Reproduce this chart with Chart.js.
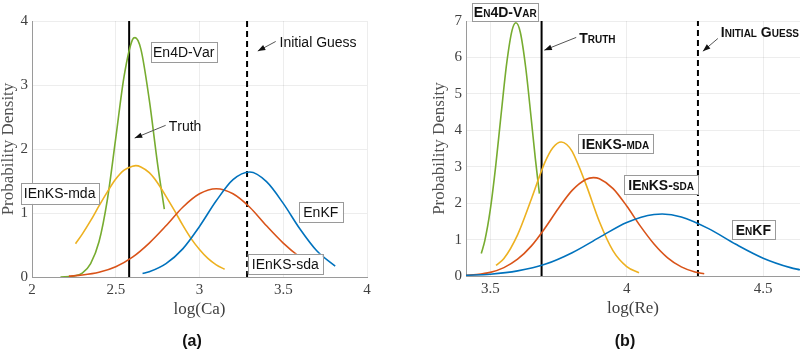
<!DOCTYPE html>
<html>
<head>
<meta charset="utf-8">
<script src="https://cdn.jsdelivr.net/npm/chart.js@4.4.1/dist/chart.umd.min.js"></script>
<style>
  body { margin: 0; background: #fff; }
  .panel { position: absolute; top: 0; width: 400px; height: 353px; }
</style>
</head>
<body>
<div class="panel" style="left:0"><canvas id="chartA" width="400" height="353"></canvas></div>
<div class="panel" style="left:400px"><canvas id="chartB" width="400" height="353"></canvas></div>
<script>
// ---- panel (a): log(Ca) ----
const xTicksA = [2, 2.5, 3, 3.5, 4];
const yTicksA = [0, 1, 2, 3, 4];
const truthA = 2.58;
const guessA = 3.284;

const en4dA_x = [2.17, 2.25, 2.30, 2.35, 2.40, 2.45, 2.50, 2.55, 2.60, 2.615, 2.65, 2.70, 2.75, 2.79];
const en4dA_y = [0.00, 0.015, 0.06, 0.21, 0.55, 1.21, 2.17, 3.14, 3.71, 3.74, 3.56, 2.77, 1.76, 1.06];

const mdaA_x = [2.26, 2.30, 2.35, 2.40, 2.45, 2.50, 2.55, 2.60, 2.62, 2.65, 2.70, 2.75, 2.80, 2.85, 2.90, 2.95, 3.00, 3.05, 3.10, 3.15];
const mdaA_y = [0.52, 0.67, 0.88, 1.11, 1.33, 1.53, 1.67, 1.73, 1.74, 1.72, 1.63, 1.47, 1.26, 1.04, 0.81, 0.60, 0.43, 0.29, 0.19, 0.12];

const sdaA_x = [2.22, 2.30, 2.40, 2.50, 2.60, 2.70, 2.80, 2.90, 3.00, 3.10, 3.20, 3.30, 3.40, 3.50, 3.60, 3.63];
const sdaA_y = [0.013, 0.03, 0.073, 0.16, 0.31, 0.53, 0.80, 1.09, 1.30, 1.38, 1.30, 1.09, 0.80, 0.53, 0.31, 0.26];

const enkfA_x = [2.66, 2.70, 2.80, 2.90, 3.00, 3.10, 3.20, 3.30, 3.40, 3.50, 3.60, 3.70, 3.81];
const enkfA_y = [0.054, 0.082, 0.21, 0.44, 0.79, 1.19, 1.52, 1.64, 1.49, 1.15, 0.75, 0.41, 0.17];

// ---- panel (b): log(Re) ----
const xTicksB = [3.5, 4, 4.5];
const yTicksB = [0, 1, 2, 3, 4, 5, 6, 7];
const truthB = 3.688;
const guessB = 4.261;

const en4dB_x = [3.467, 3.48, 3.50, 3.52, 3.54, 3.56, 3.58, 3.594, 3.61, 3.63, 3.65, 3.665, 3.68];
const en4dB_y = [0.62, 0.97, 1.82, 3.03, 4.46, 5.83, 6.75, 6.95, 6.69, 5.71, 4.32, 3.23, 2.26];

const mdaB_x = [3.521, 3.55, 3.60, 3.65, 3.70, 3.73, 3.76, 3.78, 3.80, 3.85, 3.90, 3.95, 4.00, 4.045];
const mdaB_y = [0.29, 0.48, 1.13, 2.10, 3.12, 3.53, 3.68, 3.61, 3.42, 2.53, 1.49, 0.69, 0.26, 0.09];

const sdaB_x = [3.411, 3.45, 3.50, 3.55, 3.60, 3.65, 3.70, 3.75, 3.80, 3.85, 3.878, 3.90, 3.95, 4.00, 4.05, 4.10, 4.15, 4.20, 4.25, 4.284];
const sdaB_y = [0.02, 0.04, 0.10, 0.23, 0.46, 0.82, 1.31, 1.86, 2.35, 2.65, 2.70, 2.67, 2.40, 1.92, 1.37, 0.88, 0.50, 0.25, 0.11, 0.06];

const enkfB_x = [3.411, 3.50, 3.60, 3.70, 3.80, 3.90, 4.00, 4.10, 4.13, 4.20, 4.30, 4.40, 4.50, 4.60, 4.635];
const enkfB_y = [0.02, 0.05, 0.14, 0.32, 0.64, 1.06, 1.47, 1.69, 1.70, 1.62, 1.30, 0.87, 0.49, 0.23, 0.17];

const BLUE = '#0072BD', RED = '#D95319', YELLOW = '#EDB120', GREEN = '#77AC30';
const SERIF = "'Liberation Serif', 'DejaVu Serif', serif";
const SANS = "'Liberation Sans', Arial, sans-serif";

function pts(xs, ys) { return xs.map((x, i) => ({ x: x, y: ys[i] })); }

function curve(xs, ys, color) {
  return {
    data: pts(xs, ys), borderColor: color, borderWidth: 1.6,
    pointRadius: 0, fill: false, tension: 0.4, cubicInterpolationMode: 'monotone'
  };
}

function vline(x, yTop, dashed) {
  return {
    data: [{ x: x, y: 0 }, { x: x, y: yTop }], borderColor: '#000', borderWidth: 2,
    borderDash: dashed ? [6, 4] : [], pointRadius: 0, fill: false, tension: 0
  };
}

// text with manual small caps (lowercase drawn as smaller capitals)
function drawText(ctx, text, x, y, size, smallCaps, align) {
  ctx.fillStyle = '#111';
  ctx.textBaseline = 'alphabetic';
  ctx.textAlign = 'left';
  const parts = [];
  let w = 0;
  for (const ch of text) {
    const low = smallCaps && ch !== ch.toUpperCase();
    const s = low ? Math.round(size * 0.74) : size;
    ctx.font = (smallCaps ? 'bold ' : '') + s + 'px ' + SANS;
    const c = low ? ch.toUpperCase() : ch;
    const cw = ctx.measureText(c).width;
    parts.push({ c: c, s: s, w: cw });
    w += cw;
  }
  let cx = align === 'center' ? x - w / 2 : x;
  const base = y + size * 0.36;
  for (const p of parts) {
    ctx.font = (smallCaps ? 'bold ' : '') + p.s + 'px ' + SANS;
    ctx.fillText(p.c, cx, base);
    cx += p.w;
  }
  return w;
}

const notesPlugin = {
  id: 'notes',
  afterDraw(chart) {
    const o = chart.options.plugins.notes;
    const ctx = chart.ctx;
    const xs = chart.scales.x, ys = chart.scales.y;
    ctx.save();
    for (const b of o.boxes) {
      const cx = xs.getPixelForValue(b.x), cy = ys.getPixelForValue(b.y);
      ctx.fillStyle = '#fff';
      ctx.strokeStyle = '#9a9a9a';
      ctx.lineWidth = 1;
      ctx.fillRect(cx - b.w / 2, cy - b.h / 2, b.w, b.h);
      ctx.strokeRect(Math.round(cx - b.w / 2) + 0.5, Math.round(cy - b.h / 2) + 0.5, b.w, b.h);
      drawText(ctx, b.text, cx, cy, o.size, o.smallCaps, 'center');
    }
    for (const t of o.labels) {
      const tx = xs.getPixelForValue(t.x), ty = ys.getPixelForValue(t.y);
      drawText(ctx, t.text, tx, ty, o.size, o.smallCaps, 'left');
      const x1 = xs.getPixelForValue(t.ax1), y1 = ys.getPixelForValue(t.ay1);
      const x2 = xs.getPixelForValue(t.ax2), y2 = ys.getPixelForValue(t.ay2);
      ctx.strokeStyle = '#555';
      ctx.fillStyle = '#111';
      ctx.lineWidth = 1;
      ctx.beginPath(); ctx.moveTo(x1, y1); ctx.lineTo(x2, y2); ctx.stroke();
      const a = Math.atan2(y2 - y1, x2 - x1);
      ctx.beginPath();
      ctx.moveTo(x2, y2);
      ctx.lineTo(x2 - 8 * Math.cos(a - 0.35), y2 - 8 * Math.sin(a - 0.35));
      ctx.lineTo(x2 - 8 * Math.cos(a + 0.35), y2 - 8 * Math.sin(a + 0.35));
      ctx.closePath(); ctx.fill();
    }
    ctx.font = 'bold 16px ' + SANS;
    ctx.fillStyle = '#111';
    ctx.textAlign = 'center';
    ctx.textBaseline = 'middle';
    ctx.fillText(o.caption, o.captionX, 342);
    ctx.restore();
  }
};

function makePanel(id, cfg) {
  new Chart(document.getElementById(id).getContext('2d'), {
    type: 'line',
    data: { datasets: cfg.datasets },
    options: {
      responsive: false,
      animation: false,
      events: [],
      layout: { padding: cfg.padding },
      plugins: {
        legend: { display: false },
        tooltip: { enabled: false },
        notes: cfg.notes
      },
      scales: {
        x: {
          type: 'linear', min: cfg.xMin, max: cfg.xMax,
          afterBuildTicks: (ax) => { ax.ticks = cfg.xTicks.map(v => ({ value: v })); },
          afterFit: (ax) => { ax.height = 43; },
          ticks: { padding: 4, color: '#404040', font: { family: SERIF, size: 15 },
                   callback: (v) => String(v) },
          grid: { color: 'rgba(0,0,0,0.07)', drawTicks: false },
          border: { color: '#9a9a9a' },
          title: { display: true, text: cfg.xTitle, color: '#404040', padding: 0,
                   font: { family: SERIF, size: 17 } }
        },
        y: {
          type: 'linear', min: cfg.yMin, max: cfg.yMax,
          afterBuildTicks: (ax) => { ax.ticks = cfg.yTicks.map(v => ({ value: v })); },
          afterFit: (ax) => { ax.width = cfg.yWidth; },
          ticks: { padding: 4, color: '#404040', font: { family: SERIF, size: 15 } },
          grid: { color: 'rgba(0,0,0,0.07)', drawTicks: false },
          border: { color: '#9a9a9a' },
          title: { display: true, text: 'Probability Density', color: '#505050', padding: 0,
                   font: { family: SERIF, size: 17, lineHeight: 1 } }
        }
      }
    },
    plugins: [notesPlugin]
  });
}

makePanel('chartA', {
  xMin: 2, xMax: 4, yMin: 0, yMax: 4,
  xTicks: xTicksA, yTicks: yTicksA,
  xTitle: 'log(Ca)', yWidth: 32,
  padding: { left: 0, top: 21, right: 33, bottom: 33 },
  datasets: [
    curve(enkfA_x, enkfA_y, BLUE),
    curve(sdaA_x, sdaA_y, RED),
    curve(mdaA_x, mdaA_y, YELLOW),
    curve(en4dA_x, en4dA_y, GREEN),
    vline(truthA, 4, false),
    vline(guessA, 4, true)
  ],
  notes: {
    size: 14, smallCaps: false, caption: '(a)', captionX: 192,
    boxes: [
      { text: 'En4D-Var', x: 2.906, y: 3.51, w: 66, h: 20 },
      { text: 'IEnKS-mda', x: 2.165, y: 1.306, w: 78, h: 21 },
      { text: 'EnKF', x: 3.724, y: 1.018, w: 44, h: 20 },
      { text: 'IEnKS-sda', x: 3.512, y: 0.207, w: 75, h: 20 }
    ],
    labels: [
      { text: 'Initial Guess', x: 3.478, y: 3.67, ax1: 3.455, ay1: 3.68, ax2: 3.348, ay2: 3.53 },
      { text: 'Truth', x: 2.816, y: 2.36, ax1: 2.798, ay1: 2.37, ax2: 2.613, ay2: 2.17 }
    ]
  }
});

makePanel('chartB', {
  xMin: 3.411, xMax: 4.635, yMin: 0, yMax: 7,
  xTicks: xTicksB, yTicks: yTicksB,
  xTitle: 'log(Re)', yWidth: 35,
  padding: { left: 31, top: 21, right: 0, bottom: 34 },
  datasets: [
    curve(enkfB_x, enkfB_y, BLUE),
    curve(sdaB_x, sdaB_y, RED),
    curve(mdaB_x, mdaB_y, YELLOW),
    curve(en4dB_x, en4dB_y, GREEN),
    vline(truthB, 7, false),
    vline(guessB, 7, true)
  ],
  notes: {
    size: 14, smallCaps: true, caption: '(b)', captionX: 225,
    boxes: [
      { text: 'En4D-Var', x: 3.555, y: 7.25, w: 66, h: 18 },
      { text: 'IEnKS-mda', x: 3.959, y: 3.63, w: 75, h: 19 },
      { text: 'IEnKS-sda', x: 4.126, y: 2.50, w: 74, h: 19 },
      { text: 'EnKF', x: 4.464, y: 1.27, w: 43, h: 19 }
    ],
    labels: [
      { text: 'Truth', x: 3.826, y: 6.525, ax1: 3.815, ay1: 6.55, ax2: 3.698, ay2: 6.20 },
      { text: 'Initial Guess', x: 4.345, y: 6.69, ax1: 4.334, ay1: 6.52, ax2: 4.279, ay2: 6.17 }
    ]
  }
});
</script>
</body>
</html>
